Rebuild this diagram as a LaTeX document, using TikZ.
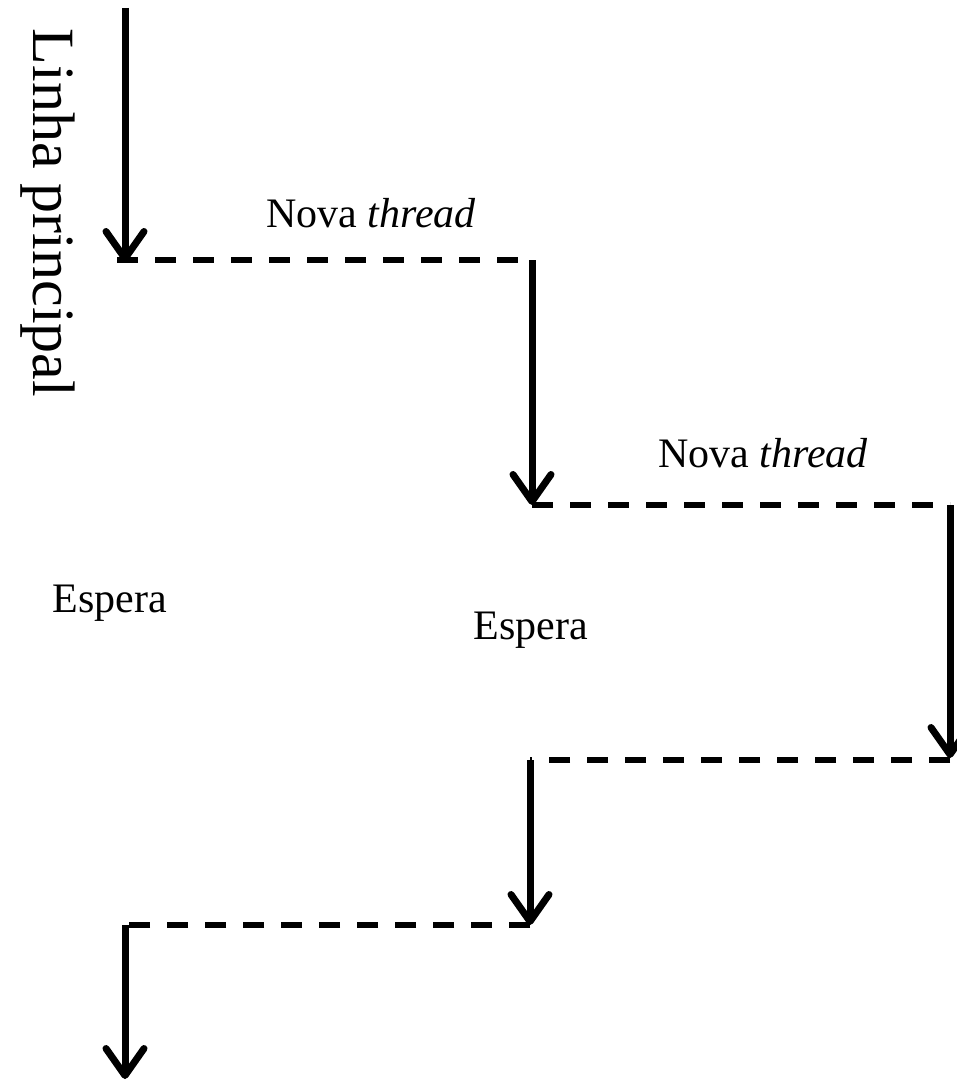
\documentclass[tikz,border=0pt]{standalone}
\usepackage{fontspec}
\setmainfont{Liberation Serif}
\usepackage{tikz}
\usetikzlibrary{arrows.meta,positioning,calc}

\tikzset{
  flow/.style={line width=7pt,-{Straight Barb[length=27pt,width=38pt,round]}},
  spawn/.style={line width=5.5pt,dash pattern=on 21pt off 17pt},
  lbl/.style={font=\fontsize{42}{50}\selectfont,inner sep=0pt}
}

\begin{document}
\begin{tikzpicture}[x=1pt,y=-1pt]
            \useasboundingbox (0,0) rectangle (956,1081);
            % corners of the steps
            \coordinate (s0) at (125,8);
            \coordinate (t1) at (125,262);
            \coordinate (d1) at (117,260);
            \coordinate (c1) at (532,260);
            \coordinate (t2) at (532,505);
            \coordinate (c2) at (950,505);
            \coordinate (t3) at (950,758);
            \coordinate (c3) at (950,760);
            \coordinate (c4) at (530,760);
            \coordinate (t4) at (530,925);
            \coordinate (c5) at (125,925);
            \coordinate (t5) at (125,1079);

            \draw[flow] (s0) -- (t1);
            \draw[spawn] (d1) -- (c1);
            \draw[flow] (c1) -- (t2);
            \draw[spawn] (t2) -- (c2);
            \draw[flow] (c2) -- (t3);
            \draw[spawn] (c3) -- (c4);
            \draw[flow] (c4) -- (t4);
            \draw[spawn] (t4) -- (c5);
            \draw[flow] (c5) -- (t5);

            \node[lbl,font=\fontsize{60}{70}\selectfont,rotate=-90] (main) at (48,213) {Linha principal};
            \node[lbl] (nova1) at (371,213) {Nova \textit{thread}};
            \node[lbl] (nova2) at (763,453) {Nova \textit{thread}};
            \node[lbl] (esp1) at (110,603) {Espera};
            \node[lbl] (esp2) at (531,630) {Espera};
        \end{tikzpicture}
\end{document}
